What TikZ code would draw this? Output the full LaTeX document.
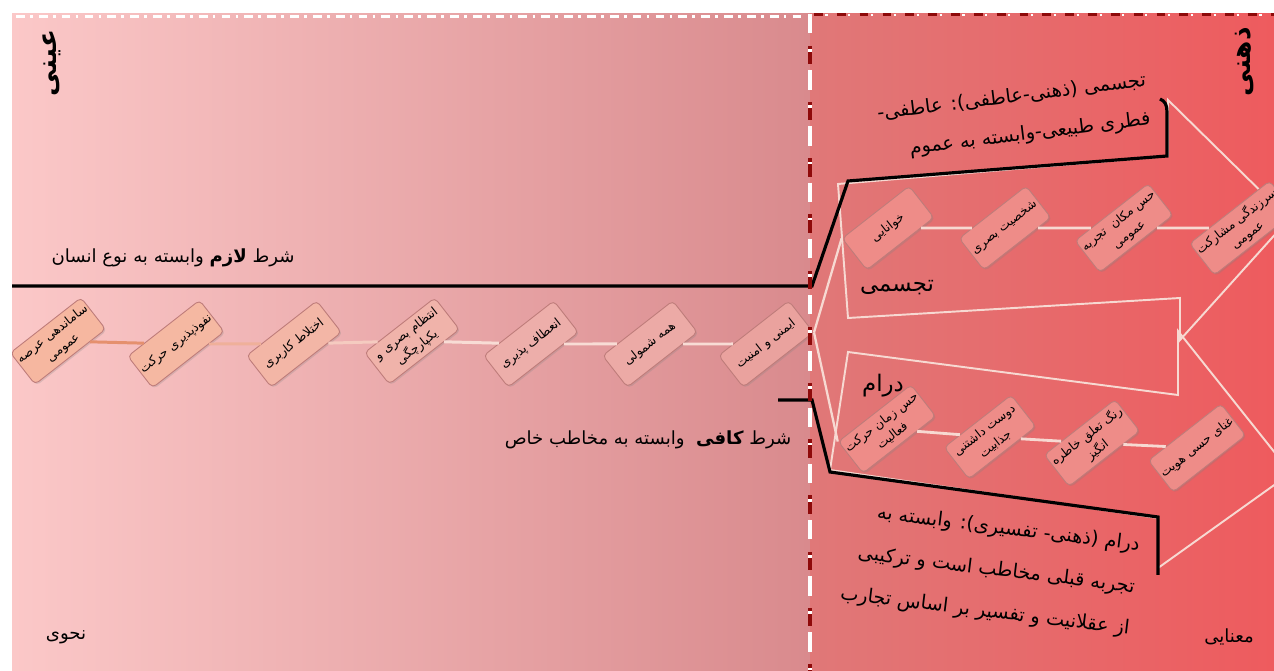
\documentclass[tikz,border=0pt]{standalone}
\usepackage{fontspec}
\newfontfamily\ar[Script=Arabic]{DejaVu Sans}
\TeXXeTstate=1
\usetikzlibrary{shadows}
\definecolor{bgLa}{HTML}{FBC8C8}
\definecolor{bgLb}{HTML}{D98A8D}
\definecolor{bgRa}{HTML}{E07878}
\definecolor{bgRb}{HTML}{EE5B5E}
\definecolor{dkred}{HTML}{8E0A0A}
\definecolor{outl}{HTML}{F7D9D2}
\definecolor{boxedge}{HTML}{BE7C7A}
\definecolor{rbox}{HTML}{EE8C88}
\definecolor{lba}{HTML}{F6B7A0}
\definecolor{lbb}{HTML}{F5B8A2}
\definecolor{lbc}{HTML}{F3B6A6}
\definecolor{lbd}{HTML}{F0B3AA}
\definecolor{lbe}{HTML}{EDAEAA}
\definecolor{lbf}{HTML}{ECAAA6}
\definecolor{lbg}{HTML}{EAA29E}
\definecolor{lca}{HTML}{E5906E}
\definecolor{lcb}{HTML}{EFB09A}
\definecolor{lcc}{HTML}{F5CBC0}
\definecolor{lcd}{HTML}{F8DCD5}
\newcommand\RL[1]{\beginR #1\endR}
\begin{document}
\begin{tikzpicture}[x=0.02cm,y=-0.02cm,
 boxbase/.style={draw=boxedge, line width=0.5pt, rounded corners=2.5pt, rotate=38, inner sep=1pt, align=center, text=black, font=\ar\fontsize{7}{10}\selectfont, drop shadow={shadow xshift=0.8pt, shadow yshift=-0.8pt, opacity=0.25}},
 lbox/.style={boxbase, minimum width=1.78cm, minimum height=0.8cm},
 rboxs/.style={boxbase, fill=rbox, minimum width=1.7cm, minimum height=0.8cm},
 lconn/.style={line width=1.7pt},
 rconn/.style={draw=outl, line width=1.6pt},
 outline/.style={draw=outl, line width=1.1pt},
 blk/.style={draw=black, line width=1.8pt, line join=miter},
 txt/.style={inner sep=0pt, text=black, font=\ar\fontsize{10.3}{13}\selectfont},
]
\useasboundingbox (0,0) rectangle (1274,671);
\fill[white] (0,0) rectangle (1274,671);
\shade[left color=bgLa, right color=bgLb] (12,14) rectangle (810,671);
\shade[left color=bgRa, right color=bgRb] (810,14) rectangle (1274,671);
% borders
\draw[white, line width=1.7pt, dash pattern=on 5pt off 3pt on 1.5pt off 3.5pt] (16,17) -- (806,17);
\draw[dkred, line width=1.7pt, dash pattern=on 5pt off 8pt] (814,15) -- (1274,15);
\draw[white, line width=1.2pt, dash pattern=on 1.2pt off 11.8pt, dash phase=6.5pt] (814,15) -- (1274,15);
\begin{scope}
\clip (12,14) rectangle (1274,671);
% arrow outlines
\draw[outline] (838,184) -- (848,318) -- (1180,298) -- (1180,340) -- (1289,219) -- (1168,100) -- (1168,156) -- cycle;
\draw[outline] (848,352) -- (830,470) -- (1158,518) -- (1158,568) -- (1291,473) -- (1178,331) -- (1178,395) -- cycle;
% boxes left row
\node[lbox, fill=lba] (L1) at (58,341) {\RL{ساماندهی عرصه}\\\RL{عمومی}};
\node[lbox, fill=lbb] (L2) at (176,344) {\RL{نفوذپذیری حرکت}};
\node[lbox, fill=lbc] (L3) at (294,344) {\RL{اختلاط کاربری}};
\node[lbox, fill=lbd] (L4) at (412,341) {\RL{انتظام بصری و}\\\RL{یکپارچگی}};
\node[lbox, fill=lbe] (L5) at (531,344) {\RL{انعطاف پذیری}};
\node[lbox, fill=lbf] (L6) at (650,344) {\RL{همه شمولی}};
\node[lbox, fill=lbg] (L7) at (766,344) {\RL{ایمنی و امنیت}};
% top row
\node[rboxs] (T1) at (888,228) {\RL{خوانایی}};
\node[rboxs] (T2) at (1005,228) {\RL{شخصیت بصری}};
\node[rboxs] (T3) at (1124,228) {\RL{حس مکان\ \ تجربه}\\\RL{عمومی}};
\node[rboxs] (T4) at (1242,228) {\RL{سرزندگی مشارکت}\\\RL{عمومی}};
% bottom row
\node[rboxs] (B1) at (887,429) {\RL{حس زمان حرکت}\\\RL{فعالیت}};
\node[rboxs] (B2) at (990,437) {\RL{دوست داشتنی}\\\RL{جذابیت}};
\node[rboxs] (B3) at (1092,443) {\RL{رنگ تعلق خاطره}\\\RL{انگیز}};
\node[rboxs] (B4) at (1197,448) {\RL{غنای حسی هویت}};
% connectors
\draw[lconn, lca] (L1) -- (L2);
\draw[lconn, lcb] (L2) -- (L3);
\draw[lconn, lcc] (L3) -- (L4);
\draw[lconn, lcd] (L4) -- (L5);
\draw[lconn, lcd] (L5) -- (L6);
\draw[lconn, lcd] (L6) -- (L7);
\draw[rconn] (T1) -- (T2);
\draw[rconn] (T2) -- (T3);
\draw[rconn] (T3) -- (T4);
\draw[rconn] (B1) -- (B2);
\draw[rconn] (B2) -- (B3);
\draw[rconn] (B3) -- (B4);
\draw[rconn, line width=1.3pt] (L7.south east) -- (T1.north west);
\draw[rconn, line width=1.3pt] (L7.south east) -- (B1.north west);
% black lines
\draw[blk] (12,286) -- (812,286) -- (848,181) -- (1167,156) -- (1167,112) .. controls (1167,105) and (1165,101) .. (1160,99);
\draw[blk] (778,400) -- (812,400) -- (830,472) -- (1158,517) -- (1158,575);
\end{scope}
% divider
\draw[white, line width=2.3pt, dash pattern=on 11pt off 7pt on 10.5pt off 3.5pt] (810,14) -- (810,671);
\draw[dkred, line width=2.3pt, dash pattern=on 2pt off 1.5pt on 7pt off 21.5pt, dash phase=14pt] (810,14) -- (810,671);
% texts
\node[txt] (lazem) at (173,258) {\RL{شرط \textbf{لازم} وابسته به نوع انسان}};
\node[txt] (kafi) at (648,440) {\RL{شرط \textbf{کافی}\ \ وابسته به مخاطب خاص}};
\node[txt, align=right, rotate=7, font=\ar\fontsize{11}{22}\selectfont] (tajd) at (1014,117) {\RL{تجسمی (ذهنی-عاطفی): عاطفی-}\\\RL{فطری طبیعی-وابسته به عموم}};
\node[txt, align=right, rotate=-7, font=\ar\fontsize{11}{24}\selectfont] (dramd) at (990,570) {\RL{درام (ذهنی- تفسیری): وابسته به}\\\RL{تجربه قبلی مخاطب است و ترکیبی}\\\RL{از عقلانیت و تفسیر بر اساس تجارب}};
\node[txt, font=\ar\fontsize{13}{15}\selectfont] (tajl) at (897,288) {\RL{تجسمی}};
\node[txt, font=\ar\fontsize{13}{15}\selectfont] (dral) at (883,386) {\RL{درام}};
\node[txt] (nahvi) at (66,637) {\RL{نحوی}};
\node[txt] (manai) at (1229,637) {\RL{معنایی}};
\node[txt, rotate=90, font=\ar\bfseries\fontsize{15}{17}\selectfont] (eini) at (52,63) {\RL{عینی}};
\node[txt, rotate=90, font=\ar\bfseries\fontsize{15}{17}\selectfont] (zehni) at (1245,62) {\RL{ذهنی}};
\end{tikzpicture}
\end{document}
